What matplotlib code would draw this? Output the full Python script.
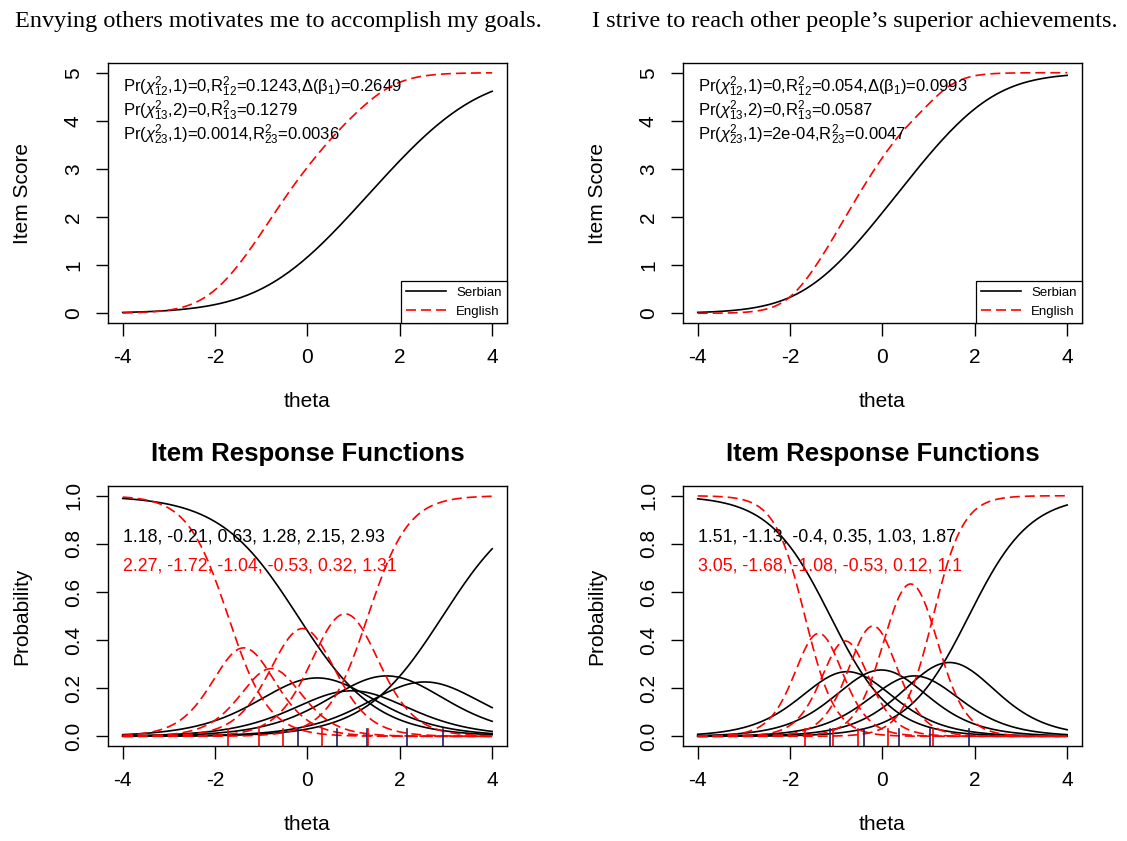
import matplotlib
matplotlib.use('Agg')
import matplotlib.pyplot as plt
import numpy as np

# item titles
titulos = ['Envying others motivates me to accomplish my goals.',
           'I strive to reach other people\u2019s superior achievements.']

# graded response parameters (a, b1..b5)
a_serb = [1.18, 1.51]
b_serb = [[-0.21, 0.63, 1.28, 2.15, 2.93],
          [-1.13, -0.4, 0.35, 1.03, 1.87]]
a_eng = [2.27, 3.05]
b_eng = [[-1.72, -1.04, -0.53, 0.32, 1.31],
         [-1.68, -1.08, -0.53, 0.12, 1.1]]

# statistics printed in the top panels
chi12 = ['0', '0']
r12 = ['0.1243', '0.054']
beta1 = ['0.2649', '0.0993']
chi13 = ['0', '0']
r13 = ['0.1279', '0.0587']
chi23 = ['0.0014', '2e-04']
r23 = ['0.0036', '0.0047']

plt.rcParams['font.family'] = ['Liberation Sans', 'DejaVu Sans']
plt.rcParams['mathtext.fontset'] = 'custom'
plt.rcParams['mathtext.rm'] = 'Liberation Sans'
plt.rcParams['mathtext.it'] = 'Liberation Sans:italic'
plt.rcParams['mathtext.bf'] = 'Liberation Sans:bold'
plt.rcParams['axes.unicode_minus'] = False

theta = np.linspace(-4, 4, 161)


def categorias(a, b):
    # category probabilities of the graded response model
    pstar = [np.ones_like(theta)]
    for bk in b:
        pstar.append(1 / (1 + np.exp(-a * (theta - bk))))
    pstar.append(np.zeros_like(theta))
    return [pstar[k] - pstar[k + 1] for k in range(len(b) + 1)]


def ejes(eje, ylab):
    eje.set_xlim(-4.32, 4.32)
    eje.set_xticks([-4, -2, 0, 2, 4])
    eje.set_xlabel('theta', fontsize=15, va='center')
    eje.set_ylabel(ylab, fontsize=15)
    eje.xaxis.set_label_coords(0.5, -0.304)
    eje.yaxis.set_label_coords(-0.215, 0.5)
    eje.yaxis.label.set_va('center')
    eje.tick_params(labelsize=15, length=9, width=1, pad=9)
    for lab in eje.get_yticklabels():
        lab.set_rotation(90)
        lab.set_va('center')
    for s in eje.spines.values():
        s.set_linewidth(1)


fig = plt.figure(figsize=(11.27, 8.41), dpi=100)
izq = [0.0958, 0.606]
centro_tit = [0.2467, 0.7587]
ancho = 0.354
alto = 0.309
dash = (0, (6, 3))

for i in range(2):
    ps = categorias(a_serb[i], b_serb[i])
    pe = categorias(a_eng[i], b_eng[i])
    score_s = sum(k * p for k, p in enumerate(ps))
    score_e = sum(k * p for k, p in enumerate(pe))

    # top: item true score functions
    ax = fig.add_axes([izq[i], 0.616, ancho, alto])
    ax.plot(theta, score_s, '-', color='k', linewidth=1.2, label='Serbian')
    ax.plot(theta, score_e, color='r', linewidth=1.2, linestyle=dash, label='English')
    ax.set_ylim(-0.2, 5.2)
    ax.set_yticks([0, 1, 2, 3, 4, 5])
    ejes(ax, 'Item Score')
    l1 = r'Pr($\chi^2_{12}$,1)=' + chi12[i] + r',R$^2_{12}$=' + r12[i] + ',\u0394(\u03b2$_1$)=' + beta1[i]
    l2 = r'Pr($\chi^2_{13}$,2)=' + chi13[i] + r',R$^2_{13}$=' + r13[i]
    l3 = r'Pr($\chi^2_{23}$,1)=' + chi23[i] + r',R$^2_{23}$=' + r23[i]
    for yy, txt in zip([4.7, 4.2, 3.7], [l1, l2, l3]):
        ax.text(-4, yy, txt, fontsize=12, va='center', ha='left')
    leg = ax.legend(loc='lower right', fontsize=9.5, fancybox=False, framealpha=1,
                    edgecolor='k', borderaxespad=0, handlelength=3)
    leg.get_frame().set_linewidth(0.9)
    fig.text(centro_tit[i], 0.974, titulos[i],
             family='Liberation Serif', fontsize=17.5, ha='center', va='center')

    # bottom: item response functions
    ax2 = fig.add_axes([izq[i], 0.113, ancho, alto])
    for p in ps:
        ax2.plot(theta, p, '-', color='k', linewidth=1.2)
    for p in pe:
        ax2.plot(theta, p, color='r', linewidth=1.2, linestyle=dash)
    for bk in b_serb[i]:
        ax2.axvline(bk, ymin=0, ymax=0.065, color='#202060', linewidth=1.2)
    for bk in b_eng[i]:
        ax2.axvline(bk, ymin=0, ymax=0.065, color='r', linewidth=1.2)
    ax2.set_ylim(-0.04, 1.04)
    ax2.set_yticks([0, 0.2, 0.4, 0.6, 0.8, 1.0])
    ax2.set_yticklabels(['0.0', '0.2', '0.4', '0.6', '0.8', '1.0'])
    ejes(ax2, 'Probability')
    ax2.set_title('Item Response Functions', fontsize=18.5, fontweight='bold', pad=18)
    ax2.text(-4, 0.83, ', '.join(str(v) for v in [a_serb[i]] + b_serb[i]),
             fontsize=12.8, color='k', va='center')
    ax2.text(-4, 0.71, ', '.join(str(v) for v in [a_eng[i]] + b_eng[i]),
             fontsize=12.8, color='r', va='center')

fig.savefig('out.png', dpi=100)
